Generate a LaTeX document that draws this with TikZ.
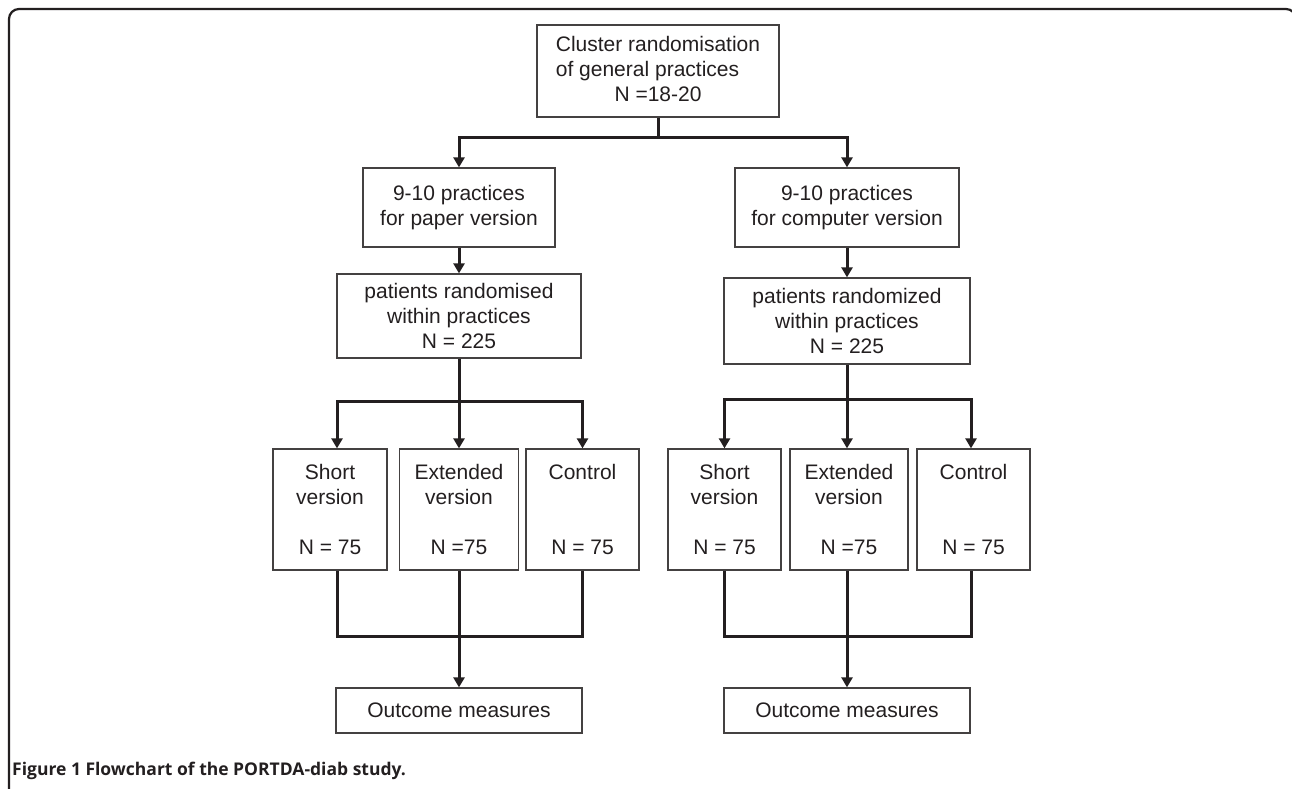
\documentclass[tikz,border=0pt]{standalone}
\usepackage{fontspec}
\setmainfont{Liberation Sans}
\newfontfamily\capfont{Open Sans}
\usetikzlibrary{arrows.meta}
\definecolor{ink}{HTML}{231F20}
\begin{document}
\begin{tikzpicture}[x=1pt,y=-1pt,
  box/.style={draw=ink!85, line width=1.3pt, align=center, inner sep=0pt, text=ink, font=\fontsize{21}{25}\selectfont},
  conn/.style={draw=ink, line width=3pt},
  arr/.style={conn, -{Triangle[length=10pt,width=11pt]}},
  frame/.style={draw=ink, line width=2.2pt, rounded corners=10pt},
  captext/.style={anchor=base west, text=ink, inner sep=0pt, font=\capfont\bfseries\fontsize{17.5}{21}\selectfont}
]
\useasboundingbox (0,0) rectangle (1292,788);
\clip (0,0) rectangle (1292,788);
\fill[white] (0,0) rectangle (1292,788);
\draw[frame] (9,800) -- (9,9) -- (1296,9) -- (1296,800);

% top
\node[box, minimum width=242, minimum height=92] (top) at (658,71)
  {\begin{tabular}{@{}l@{}}Cluster randomisation\\of general practices\\\multicolumn{1}{@{}c@{}}{N =18-20}\end{tabular}};

% left chain
\node[box, minimum width=192, minimum height=79] (pL) at (459,207.5) {9-10 practices\\for paper version};
\node[box, minimum width=244, minimum height=84] (rL) at (459,316) {patients randomised\\within practices\\N = 225};
\node[box, minimum width=114, minimum height=121] (L1) at (330,509.5) {Short\\version\\~\\N = 75};
\node[box, minimum width=119, minimum height=121] (L2) at (459,509.5) {Extended\\version\\~\\N =75};
\node[box, minimum width=113, minimum height=121] (L3) at (582.5,509.5) {Control\\~\\~\\N = 75};
\node[box, minimum width=246, minimum height=45] (OL) at (459,710.5) {Outcome measures};

% right chain
\node[box, minimum width=224, minimum height=79] (pR) at (847,207.5) {9-10 practices\\for computer version};
\node[box, minimum width=246, minimum height=86] (rR) at (847,321) {patients randomized\\within practices\\N = 225};
\node[box, minimum width=113, minimum height=121] (R1) at (724.5,509.5) {Short\\version\\~\\N = 75};
\node[box, minimum width=118, minimum height=121] (R2) at (849,509.5) {Extended\\version\\~\\N =75};
\node[box, minimum width=113, minimum height=121] (R3) at (973.5,509.5) {Control\\~\\~\\N = 75};
\node[box, minimum width=246, minimum height=45] (OR) at (847,710.5) {Outcome measures};

% caption
\node[captext] (caption) at (12,775) {Figure 1 Flowchart of the PORTDA-diab study.};

% connectors: top split
\coordinate (bT) at (658,137);
\draw[conn] (top.south) -- (bT);
\draw[arr] (bT) -| (pL.north);
\draw[arr] (bT) -| (pR.north);

% left
\draw[arr] (pL.south) -- (rL.north);
\coordinate (bL) at (459,401);
\draw[conn] (rL.south) -- (bL);
\draw[arr] (bL) -| ([xshift=7]L1.north);
\draw[arr] (bL) -- (L2.north);
\draw[arr] (bL) -| (L3.north);
\coordinate (cL) at (459,636);
\draw[conn] ([xshift=7]L1.south) |- (cL);
\draw[conn] (L3.south) |- (cL);
\draw[arr] (L2.south) -- (OL.north);

% right
\draw[arr] (pR.south) -- (rR.north);
\coordinate (bR) at (847,399);
\draw[conn] (rR.south) -- (bR);
\draw[arr] (bR) -| (R1.north);
\draw[arr] (bR) -- ([xshift=-2]R2.north);
\draw[arr] (bR) -| ([xshift=-2.5]R3.north);
\coordinate (cR) at (847,636);
\draw[conn] (R1.south) |- (cR);
\draw[conn] ([xshift=-2.5]R3.south) |- (cR);
\draw[arr] ([xshift=-2]R2.south) -- (OR.north);
\end{tikzpicture}
\end{document}
